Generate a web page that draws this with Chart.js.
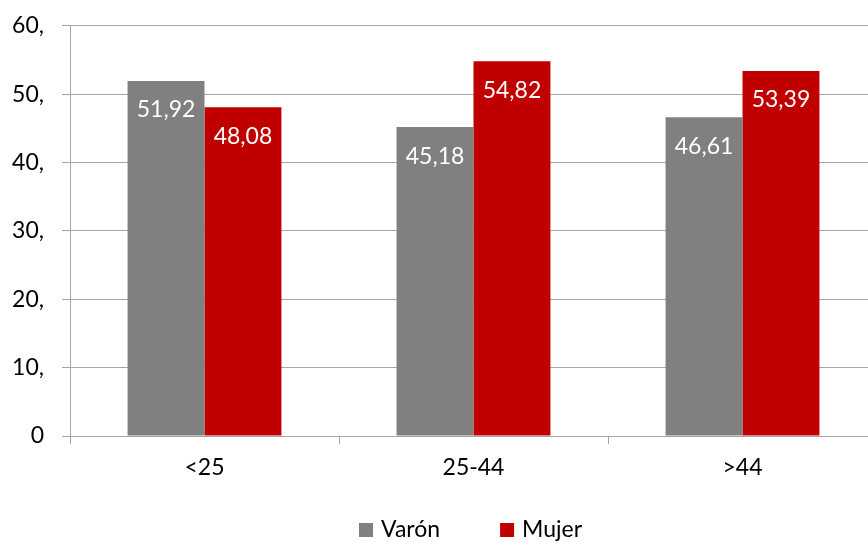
<!DOCTYPE html>
<html>
<head>
<meta charset="utf-8">
<script src="https://cdn.jsdelivr.net/npm/chart.js@4/dist/chart.umd.min.js"></script>
<style>
  html, body { margin: 0; padding: 0; background: #fff; overflow: hidden; }
  #wrap { position: relative; width: 868px; height: 542px; overflow: hidden; }
  #inner { position: absolute; left: 0; top: -6px; width: 877px; height: 548px; }
</style>
</head>
<body>
<div id="wrap"><div id="inner"><canvas id="chart"></canvas></div></div>
<script>
const categories = ['<25', '25-44', '>44'];
const varon = [51.92, 45.18, 46.61];
const mujer = [48.08, 54.82, 53.39];
const yTicks = [0, 10, 20, 30, 40, 50, 60];

const FONT = 'Lato, "Open Sans", sans-serif';

// etiquetas blancas dentro de las barras
const barLabels = {
    id: 'barLabels',
    afterDatasetsDraw(chart) {
        const ctx = chart.ctx;
        ctx.save();
        ctx.fillStyle = '#ffffff';
        ctx.font = '23px ' + FONT;
        ctx.textAlign = 'center';
        ctx.textBaseline = 'middle';
        chart.data.datasets.forEach((ds, i) => {
            chart.getDatasetMeta(i).data.forEach((bar, j) => {
                ctx.fillText(ds.data[j].toFixed(2).replace('.', ','), bar.x, bar.y + 29);
            });
        });
        ctx.restore();
    }
};

// leyenda propia abajo
const bottomLegend = {
    id: 'bottomLegend',
    afterDraw(chart) {
        const ctx = chart.ctx;
        ctx.save();
        ctx.font = '23px ' + FONT;
        ctx.textBaseline = 'middle';
        const box = 14, gap = 8, spacing = 60;
        let x = 359;
        const y = chart.chartArea.bottom + 94;
        chart.data.datasets.forEach(ds => {
            ctx.fillStyle = ds.backgroundColor;
            ctx.fillRect(x, y - box / 2, box, box);
            ctx.fillStyle = '#000';
            ctx.fillText(ds.label, x + box + gap, y);
            x += box + gap + ctx.measureText(ds.label).width + spacing;
        });
        ctx.restore();
    }
};

new Chart(document.getElementById('chart'), {
    type: 'bar',
    data: {
        labels: categories,
        datasets: [
            { label: 'Varón', data: varon, backgroundColor: '#808080', borderWidth: 0 },
            { label: 'Mujer', data: mujer, backgroundColor: '#C00000', borderWidth: 0 }
        ]
    },
    options: {
        responsive: true,
        maintainAspectRatio: false,
        animation: false,
        categoryPercentage: 0.572,
        barPercentage: 1,
        layout: { padding: { top: 20, right: 0, left: 0, bottom: 56 } },
        plugins: {
            legend: { display: false },
            tooltip: { enabled: false }
        },
        scales: {
            x: {
                grid: { offset: true, drawOnChartArea: false, color: '#A6A6A6', tickLength: 8 },
                border: { display: false },
                ticks: { color: '#000', font: { family: FONT, size: 23 }, padding: 10 },
                afterFit: s => { s.height = 50; }
            },
            y: {
                min: 0, max: 60,
                grid: { color: '#A6A6A6', tickLength: 8 },
                border: { color: '#A6A6A6' },
                afterBuildTicks: s => { s.ticks = yTicks.map(v => ({ value: v })); },
                ticks: {
                    color: '#000', font: { family: FONT, size: 23 }, padding: 18,
                    callback: v => v === 0 ? '0' : v + ','
                },
                afterFit: s => { s.width = 70; }
            }
        }
    },
    plugins: [barLabels, bottomLegend]
});
</script>
</body>
</html>
